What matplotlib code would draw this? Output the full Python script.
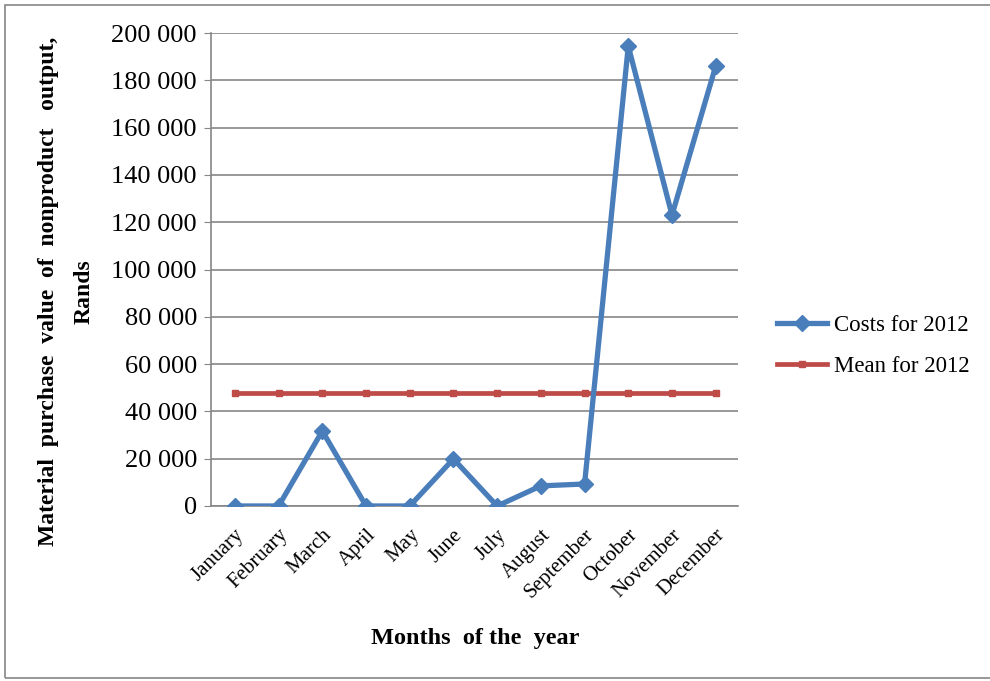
import matplotlib.pyplot as plt
from matplotlib.patches import Rectangle
from matplotlib.ticker import FuncFormatter
import numpy as np

months = ["January", "February", "March", "April", "May", "June", "July",
          "August", "September", "October", "November", "December"]
costs = [0, 0, 31700, 0, 0, 19900, 0, 8500, 9300, 194500, 123000, 186000]
mean_2012 = [47800] * 12

plt.rcParams['font.family'] = ['Liberation Serif', 'DejaVu Serif']

fig = plt.figure(figsize=(9.9, 6.81), dpi=100)
ax = fig.add_axes([0.213, 0.257, 0.532, 0.6945])

x = np.arange(len(months))
ax.plot(x, costs, color='#4A7EBB', lw=3.8, marker='D', ms=8.5,
        label='Costs for 2012', zorder=3)
ax.plot(x, mean_2012, color='#BE4B48', lw=3.4, marker='s', ms=4.5,
        label='Mean for 2012', zorder=2)

ax.set_xlim(-0.55, 11.5)
ax.set_ylim(0, 200000)
ax.set_yticks(np.arange(0, 200001, 20000))
ax.yaxis.set_major_formatter(FuncFormatter(lambda v, p: f"{int(v):,}".replace(",", " ")))
ax.set_xticks(x)
ax.set_xticklabels(months, rotation=45, ha='right', rotation_mode='anchor', fontsize=15)
ax.tick_params(axis='y', labelsize=19, length=5, color='#868686', pad=5)
ax.tick_params(axis='x', length=0, pad=14)

ax.grid(axis='y', color='#868686', lw=1.2)
ax.set_axisbelow(True)
for side in ['top', 'right']:
    ax.spines[side].set_visible(False)
for side in ['left', 'bottom']:
    ax.spines[side].set_color('#868686')
    ax.spines[side].set_linewidth(1.2)

fig.text(0.48, 0.063, "Months  of the  year", ha='center', va='center',
         fontsize=17.5, fontweight='bold')
fig.text(0.067, 0.572, "Material  purchase  value  of  nonproduct   output,\nRands",
         ha='center', va='center', rotation=90, fontsize=17, fontweight='bold',
         linespacing=1.9)

ax.legend(loc='center left', bbox_to_anchor=(1.035, 0.338), frameon=False,
          fontsize=16.5, handlelength=2.2, labelspacing=0.85, handletextpad=0.3)

fig.patches.append(Rectangle((0.005, 0.004), 1.2, 0.989, transform=fig.transFigure,
                             fill=False, edgecolor='#868686', lw=1.2))

fig.savefig("out.png", dpi=100)
